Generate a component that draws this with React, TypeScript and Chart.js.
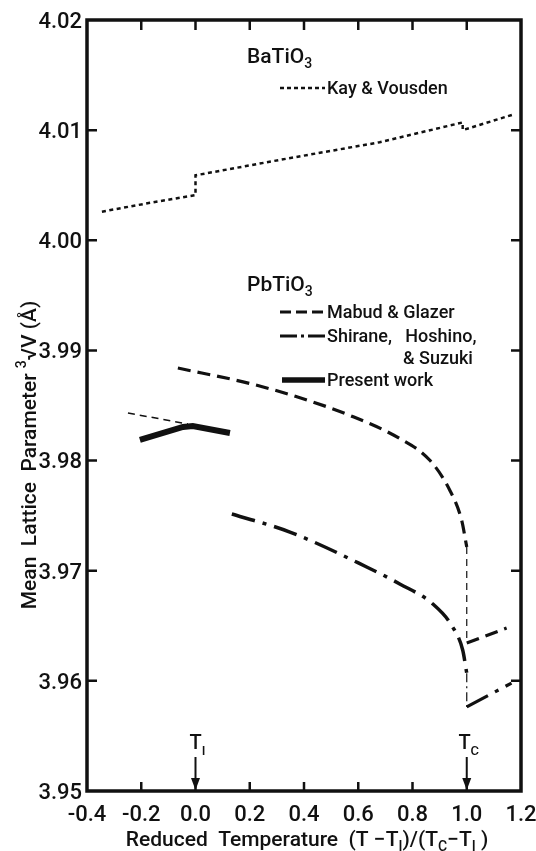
import React, { useEffect, useRef } from "react";
import { Chart, registerables } from "chart.js";

Chart.register(...registerables);

// ---- Data ----
const xTicks = [-0.4, -0.2, 0.0, 0.2, 0.4, 0.6, 0.8, 1.0, 1.2];
const yTicks = [3.95, 3.96, 3.97, 3.98, 3.99, 4.0, 4.01, 4.02];

// BaTiO3 — Kay & Vousden
const kayX = [-0.345, -0.168, 0.0, 0.0, 0.311, 0.679, 0.985, 0.985, 1.169];
const kayY = [4.0026, 4.0034, 4.0041, 4.0059, 4.0073, 4.0089, 4.0107, 4.01, 4.0114];

// PbTiO3 — Mabud & Glazer
const mabudX = [-0.065, 0.2, 0.385, 0.569, 0.753, 0.863, 0.937, 0.981, 1.0];
const mabudY = [3.9884, 3.987, 3.9857, 3.9841, 3.982, 3.98005, 3.97733, 3.9746, 3.97215];
const mabudTcX = [1.0, 1.0];
const mabudTcY = [3.97215, 3.96343];
const mabudHighX = [1.0, 1.147];
const mabudHighY = [3.96343, 3.9648];
const mabudExtX = [-0.249, -0.028];
const mabudExtY = [3.98432, 3.98332];

// PbTiO3 — Shirane, Hoshino & Suzuki
const shiraneX = [0.134, 0.348, 0.631, 0.753, 0.874, 0.948, 0.985, 1.0];
const shiraneY = [3.97515, 3.97351, 3.97034, 3.9688, 3.967, 3.96489, 3.9628, 3.9607];
const shiraneTcX = [1.0, 1.0];
const shiraneTcY = [3.9607, 3.95763];
const shiraneHighX = [1.0, 1.165];
const shiraneHighY = [3.95763, 3.9598];

// PbTiO3 — Present work
const presentX = [-0.205, -0.046, -0.01, 0.127];
const presentY = [3.98187, 3.98305, 3.98314, 3.9825];

const INK = "#111";
const FONT = "Roboto, 'DejaVu Sans', sans-serif";

const DOT = [4, 3.5];
const DASH = [13, 7];
const DASHDOT = [24, 8, 4, 8];
const THIN_DASH = [7, 5];
const THIN_DASHDOT = [9, 4, 2, 4];

function pts(xs: number[], ys: number[]) {
  return xs.map((v, i) => ({ x: v, y: ys[i] }));
}

function line(xs: number[], ys: number[], width: number, dash: number[], smooth = false) {
  return {
    data: pts(xs, ys),
    showLine: true,
    pointRadius: 0,
    borderColor: INK,
    backgroundColor: INK,
    borderWidth: width,
    borderDash: dash,
    fill: false,
    cubicInterpolationMode: smooth ? "monotone" : "default",
    tension: 0,
  } as any;
}

type Part = [string, number]; // 0 normal, 1 sub, 2 sup

function rich(ctx: CanvasRenderingContext2D, parts: Part[], x: number, y: number, size: number, align: "left" | "center" | "right", weight = "500") {
  const small = Math.round(size * 0.65);
  let w = 0;
  for (const [t, m] of parts) {
    ctx.font = `${weight} ${m ? small : size}px ${FONT}`;
    w += ctx.measureText(t).width;
  }
  let cx = align === "center" ? x - w / 2 : align === "right" ? x - w : x;
  const base = y + size * 0.36;
  ctx.textAlign = "left";
  ctx.textBaseline = "alphabetic";
  for (const [t, m] of parts) {
    ctx.font = `${weight} ${m ? small : size}px ${FONT}`;
    const dy = m === 1 ? size * 0.28 : m === 2 ? -size * 0.45 : 0;
    ctx.fillText(t, cx, base + dy);
    cx += ctx.measureText(t).width;
  }
}

function seg(ctx: CanvasRenderingContext2D, x1: number, y1: number, x2: number, y2: number, w: number, dash: number[]) {
  ctx.save();
  ctx.lineWidth = w;
  ctx.setLineDash(dash);
  ctx.beginPath();
  ctx.moveTo(x1, y1);
  ctx.lineTo(x2, y2);
  ctx.stroke();
  ctx.restore();
}

const annotations = {
  id: "annotations",
  afterDraw(chart: any) {
    const { ctx, chartArea } = chart;
    const { left, right, top, bottom } = chartArea;
    const xs = chart.scales.x;
    const ys = chart.scales.y;
    ctx.save();
    ctx.strokeStyle = INK;
    ctx.fillStyle = INK;
    ctx.setLineDash([]);

    // frame
    ctx.lineWidth = 3.5;
    ctx.strokeRect(left, top, right - left, bottom - top);

    // inward ticks
    ctx.lineWidth = 2.5;
    for (const v of xTicks) {
      const px = xs.getPixelForValue(v);
      if (px - left < 2 || right - px < 2) continue;
      ctx.beginPath();
      ctx.moveTo(px, bottom);
      ctx.lineTo(px, bottom - 9);
      ctx.moveTo(px, top);
      ctx.lineTo(px, top + 10);
      ctx.stroke();
    }
    for (const v of yTicks) {
      const py = ys.getPixelForValue(v);
      if (py - top < 2 || bottom - py < 2) continue;
      ctx.beginPath();
      ctx.moveTo(left, py);
      ctx.lineTo(left + 10, py);
      ctx.moveTo(right, py);
      ctx.lineTo(right - 10, py);
      ctx.stroke();
    }

    // tick labels
    for (const v of xTicks) {
      const px = xs.getPixelForValue(v);
      rich(ctx, [[v.toFixed(1), 0]], px, bottom + 22, 22, "center");
    }
    for (const v of yTicks) {
      const py = ys.getPixelForValue(v);
      rich(ctx, [[v.toFixed(2), 0]], left - 5, py, 22, "right");
    }

    // axis titles
    rich(
      ctx,
      [["Reduced  Temperature  (T \u2212T", 0], ["I", 1], [")/(T", 0], ["C", 1], ["\u2212T", 0], ["I", 1], [" )", 0]],
      307,
      838,
      21,
      "center"
    );
    ctx.save();
    ctx.translate(28, 455);
    ctx.rotate(-Math.PI / 2);
    rich(ctx, [["Mean  Lattice  Parameter ", 0], ["3", 2], ["\u221AV", 0], [" (\u00C5)", 0]], 0, 0, 21, "center");
    ctx.restore();

    // arrows at T_I and T_C
    for (const [v, sub] of [[0, "I"], [1, "C"]] as [number, string][]) {
      const px = xs.getPixelForValue(v);
      ctx.lineWidth = 2;
      ctx.beginPath();
      ctx.moveTo(px, bottom - 34);
      ctx.lineTo(px, bottom - 10);
      ctx.stroke();
      ctx.beginPath();
      ctx.moveTo(px - 4.5, bottom - 13);
      ctx.lineTo(px + 4.5, bottom - 13);
      ctx.lineTo(px, bottom - 1);
      ctx.closePath();
      ctx.fill();
      rich(ctx, [["T", 0], [sub, 1]], px + 2, bottom - 49, 20, "center");
    }

    // group labels
    rich(ctx, [["BaTiO", 0], ["3", 1]], 247, 55, 21, "left");
    rich(ctx, [["PbTiO", 0], ["3", 1]], 247, 283, 21, "left");

    // legend entries
    const lx1 = 280;
    const lx2 = 325;
    const LF = 18;
    seg(ctx, lx1, 88, lx2, 88, 2.5, [4, 3]);
    rich(ctx, [["Kay & Vousden", 0]], lx2 + 2, 88, LF, "left");

    seg(ctx, lx1, 312, lx2, 312, 3, [11, 5]);
    rich(ctx, [["Mabud & Glazer", 0]], lx2 + 2, 312, LF, "left");

    seg(ctx, lx1, 336, lx2, 336, 3, [17, 4, 3, 4]);
    rich(ctx, [["Shirane,   Hoshino,", 0]], lx2 + 2, 336, LF, "left");
    rich(ctx, [["& Suzuki", 0]], 403, 358, LF, "left");

    seg(ctx, lx1 + 2, 380, lx2, 380, 5.5, []);
    rich(ctx, [["Present work", 0]], lx2 + 2, 380, LF, "left");

    ctx.restore();
  },
};

export default function App() {
  const ref = useRef<HTMLCanvasElement | null>(null);
  useEffect(() => {
    if (!ref.current) return;
    const chart = new Chart(ref.current, {
      type: "scatter",
      data: {
        datasets: [
          line(kayX, kayY, 2.5, DOT),
          line(mabudX, mabudY, 3.2, DASH, true),
          line(mabudTcX, mabudTcY, 1.2, THIN_DASH),
          line(mabudHighX, mabudHighY, 3.2, DASH),
          line(mabudExtX, mabudExtY, 1.5, THIN_DASH),
          line(shiraneX, shiraneY, 3.5, DASHDOT, true),
          line(shiraneTcX, shiraneTcY, 1.2, THIN_DASHDOT),
          line(shiraneHighX, shiraneHighY, 3.2, DASHDOT),
          line(presentX, presentY, 6, []),
        ],
      },
      options: {
        animation: false,
        responsive: false,
        devicePixelRatio: 1,
        layout: { padding: { left: 87, right: 15, top: 20, bottom: 60 } },
        plugins: { legend: { display: false }, tooltip: { enabled: false } },
        scales: {
          x: { type: "linear", min: -0.4, max: 1.2, display: false },
          y: { type: "linear", min: 3.95, max: 4.02, display: false },
        },
      } as any,
      plugins: [annotations],
    });
    return () => chart.destroy();
  }, []);
  return (
    <div style={{ position: "absolute", left: 0, top: 0, width: 536, height: 851, background: "#fff" }}>
      <canvas ref={ref} width={536} height={851} style={{ display: "block" }} />
    </div>
  );
}
